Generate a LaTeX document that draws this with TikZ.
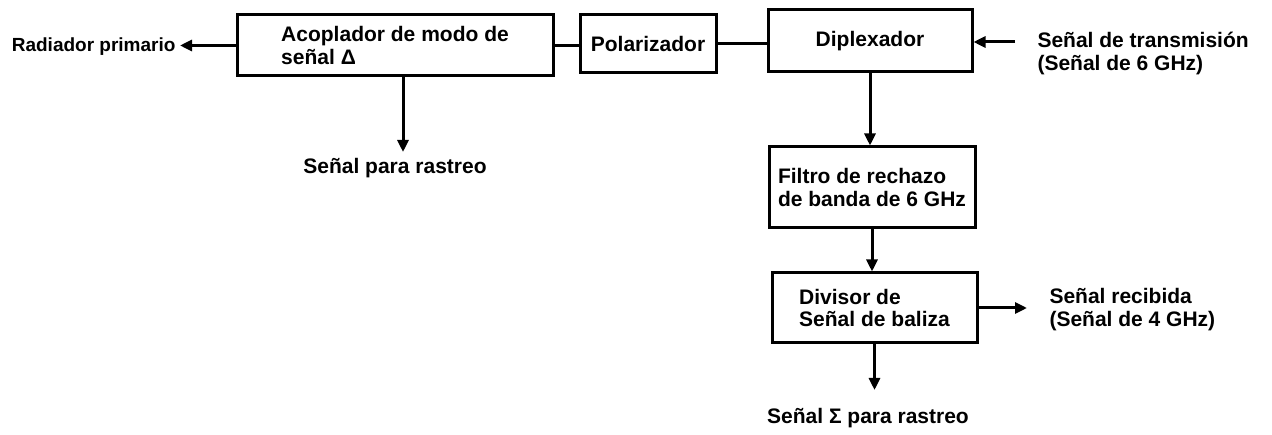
\documentclass[tikz,border=0pt]{standalone}
\usepackage{fontspec}
\setmainfont{Liberation Sans}
\usetikzlibrary{arrows.meta}

\begin{document}
\begin{tikzpicture}
  [x=1pt,y=-1pt,line width=3pt,
   every node/.style={font=\bfseries\fontsize{21}{22.5}\selectfont,align=left,inner sep=0pt},
   blk/.style={draw,rectangle},
   sig/.style={-{Triangle[length=12pt,width=11pt]}}]
  \useasboundingbox (0,0) rectangle (1272,435);
  % bloques
  \node[blk,minimum width=316pt,minimum height=61pt] (acop) at (395,45.5) {Acoplador de modo de\\señal Δ};
  \node[blk,minimum width=136pt,minimum height=58pt] (pol) at (648,44) {Polarizador};
  \node[blk,minimum width=204pt,minimum height=62pt] (dipl) at (870,41) {Diplexador};
  \node[blk,minimum width=206pt,minimum height=81pt] (filt) at (872,187.5) {Filtro de rechazo\\de banda de 6 GHz};
  \node[blk,minimum width=205pt,minimum height=70pt] (div) at (874.5,308) {Divisor de\\Señal de baliza};
  % textos
  \node[anchor=east,font=\bfseries\fontsize{19}{21}\selectfont] (rad) at (177,47) {Radiador primario};
  \node (trk) at (395,168) {Señal para rastreo};
  \node[anchor=west] (tx) at (1036,53.5) {Señal de transmisión\\(Señal de 6 GHz)};
  \node[anchor=west] (rx) at (1048,309.5) {Señal recibida\\(Señal de 4 GHz)};
  \node (trk2) at (868,418) {Señal Σ para rastreo};
  \coordinate (t1) at (403,152);
  \coordinate (t2) at (1015,42);
  \coordinate (t3) at (1027,308);
  \coordinate (t4) at (873,390);

  \foreach \from/\to in {acop/pol,pol/dipl}
    \draw (\from.east) -- (\from.east -| \to.west);
  \draw[sig] (acop.west) -- ([xshift=3pt]acop.west -| rad.east);
  \draw[sig] (acop.south -| t1) -- (t1);
  \draw[sig] (t2) -- (t2 -| dipl.east);
  \foreach \from/\to in {dipl/filt,filt/div}
    \draw[sig] (\from.south) -- (\from.south |- \to.north);
  \draw[sig] (div.east) -- (t3);
  \draw[sig] (div.south) -- (div.south |- t4);
\end{tikzpicture}
\end{document}
